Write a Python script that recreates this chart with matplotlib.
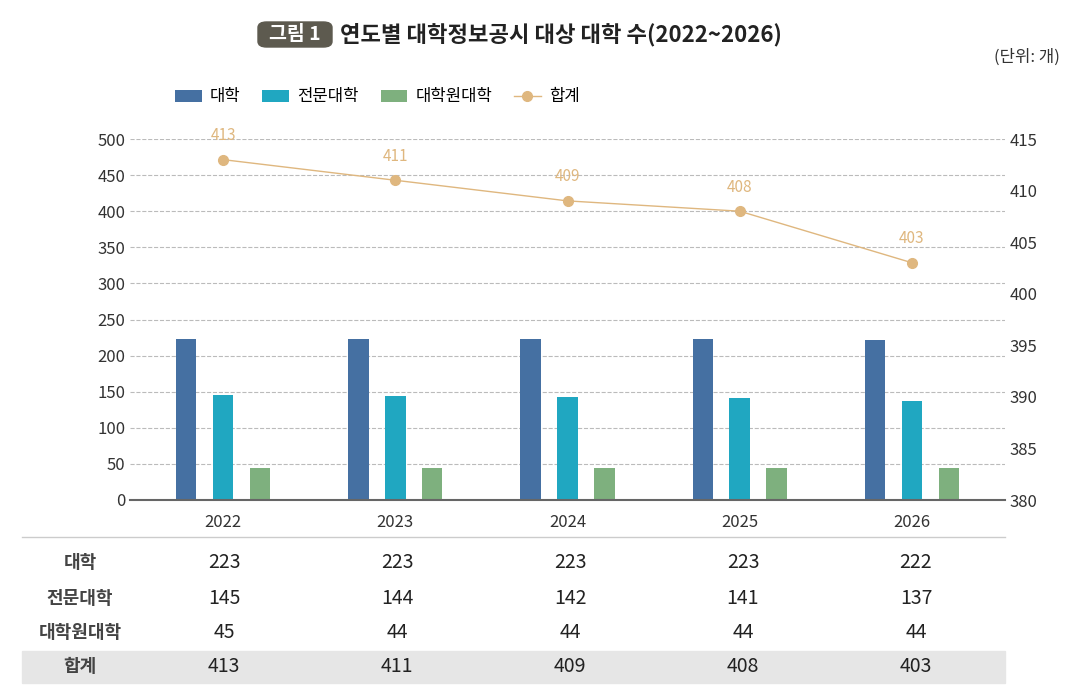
import matplotlib.pyplot as plt
import numpy as np
from matplotlib.patches import Rectangle, FancyBboxPatch

plt.rcParams['font.family'] = ['Noto Sans CJK KR', 'DejaVu Sans']

years = ["2022", "2023", "2024", "2025", "2026"]
univ = [223, 223, 223, 223, 222]
college = [145, 144, 142, 141, 137]
grad = [45, 44, 44, 44, 44]
total = [413, 411, 409, 408, 403]
names = ["대학", "전문대학", "대학원대학", "합계"]
colors = ["#4570a2", "#20a7c1", "#7eb07e", "#dfb77f"]

W, H = 1080, 697
fig = plt.figure(figsize=(W / 100, H / 100), dpi=100)

def fx(px): return px / W
def fy(py): return 1 - py / H

ax = fig.add_axes([fx(130), fy(500), fx(1005) - fx(130), fy(139) - fy(500)])
x = np.arange(len(years))
bw = 0.12
off = 0.214
ax.bar(x - off, univ, bw, color=colors[0], label=names[0])
ax.bar(x, college, bw, color=colors[1], label=names[1])
ax.bar(x + off, grad, bw, color=colors[2], label=names[2])
ax.set_xlim(-0.54, 4.54)
ax.set_ylim(0, 500)
ax.set_yticks(range(0, 501, 50))
ax.grid(axis='y', ls='--', color='#bbbbbb', lw=0.8)
ax.set_axisbelow(True)
for s in ['top', 'right', 'left']:
    ax.spines[s].set_visible(False)
ax.spines['bottom'].set_color('#666666')
ax.spines['bottom'].set_linewidth(1.5)
ax.set_xticks(x)
ax.set_xticklabels(years)
ax.tick_params(length=0, labelsize=12, colors='#333333')
ax.tick_params(axis='x', pad=10)

ax2 = ax.twinx()
ax2.plot(x, total, color=colors[3], lw=1, marker='o', ms=7, label=names[3])
for xi, v in zip(x, total):
    ax2.text(xi, v + 1.5, str(v), ha='center', va='bottom', color='#dfb77f', fontsize=11)
ax2.set_ylim(380, 415)
ax2.set_yticks(range(380, 416, 5))
for s in ax2.spines.values():
    s.set_visible(False)
ax2.tick_params(length=0, labelsize=12, colors='#333333')

h1, l1 = ax.get_legend_handles_labels()
h2, l2 = ax2.get_legend_handles_labels()
fig.legend(h1 + h2, l1 + l2, loc='center left', bbox_to_anchor=(fx(160), fy(97)),
           ncol=4, frameon=False, fontsize=12, handlelength=1.6, handletextpad=0.5,
           columnspacing=1.3)

# title
fig.patches.append(FancyBboxPatch((fx(258), fy(47)), fx(74), fy(22) - fy(47),
                                  boxstyle="round,pad=0,rounding_size=0.008",
                                  transform=fig.transFigure, color='#5d5a4f'))
fig.text(fx(295), fy(35), "그림 1", color='white', fontsize=14, fontweight='bold',
         ha='center', va='center')
fig.text(fx(340), fy(35), "연도별 대학정보공시 대상 대학 수(2022~2026)", fontsize=16,
         fontweight='bold', ha='left', va='center', color='#222222')
fig.text(fx(1060), fy(57), "(단위: 개)", fontsize=12, ha='right', va='center', color='#333333')

# table
fig.lines.append(plt.Line2D([fx(22), fx(1005)], [fy(537), fy(537)], transform=fig.transFigure,
                            color='#cccccc', lw=1))
fig.patches.append(Rectangle((fx(22), fy(683)), fx(1005) - fx(22), fy(651) - fy(683),
                             transform=fig.transFigure, color='#e6e6e6'))
rows = [univ, college, grad, total]
row_y = [562, 598, 632, 667]
col_px = [224, 397, 570, 743, 916]
for name, vals, ry in zip(names, rows, row_y):
    fig.text(fx(80), fy(ry), name, fontsize=13, fontweight='bold', ha='center', va='center', color='#444444')
    for cx, v in zip(col_px, vals):
        fig.text(fx(cx), fy(ry), str(v), fontsize=14, ha='center', va='center', color='#222222')

fig.savefig("out.png", dpi=100)
